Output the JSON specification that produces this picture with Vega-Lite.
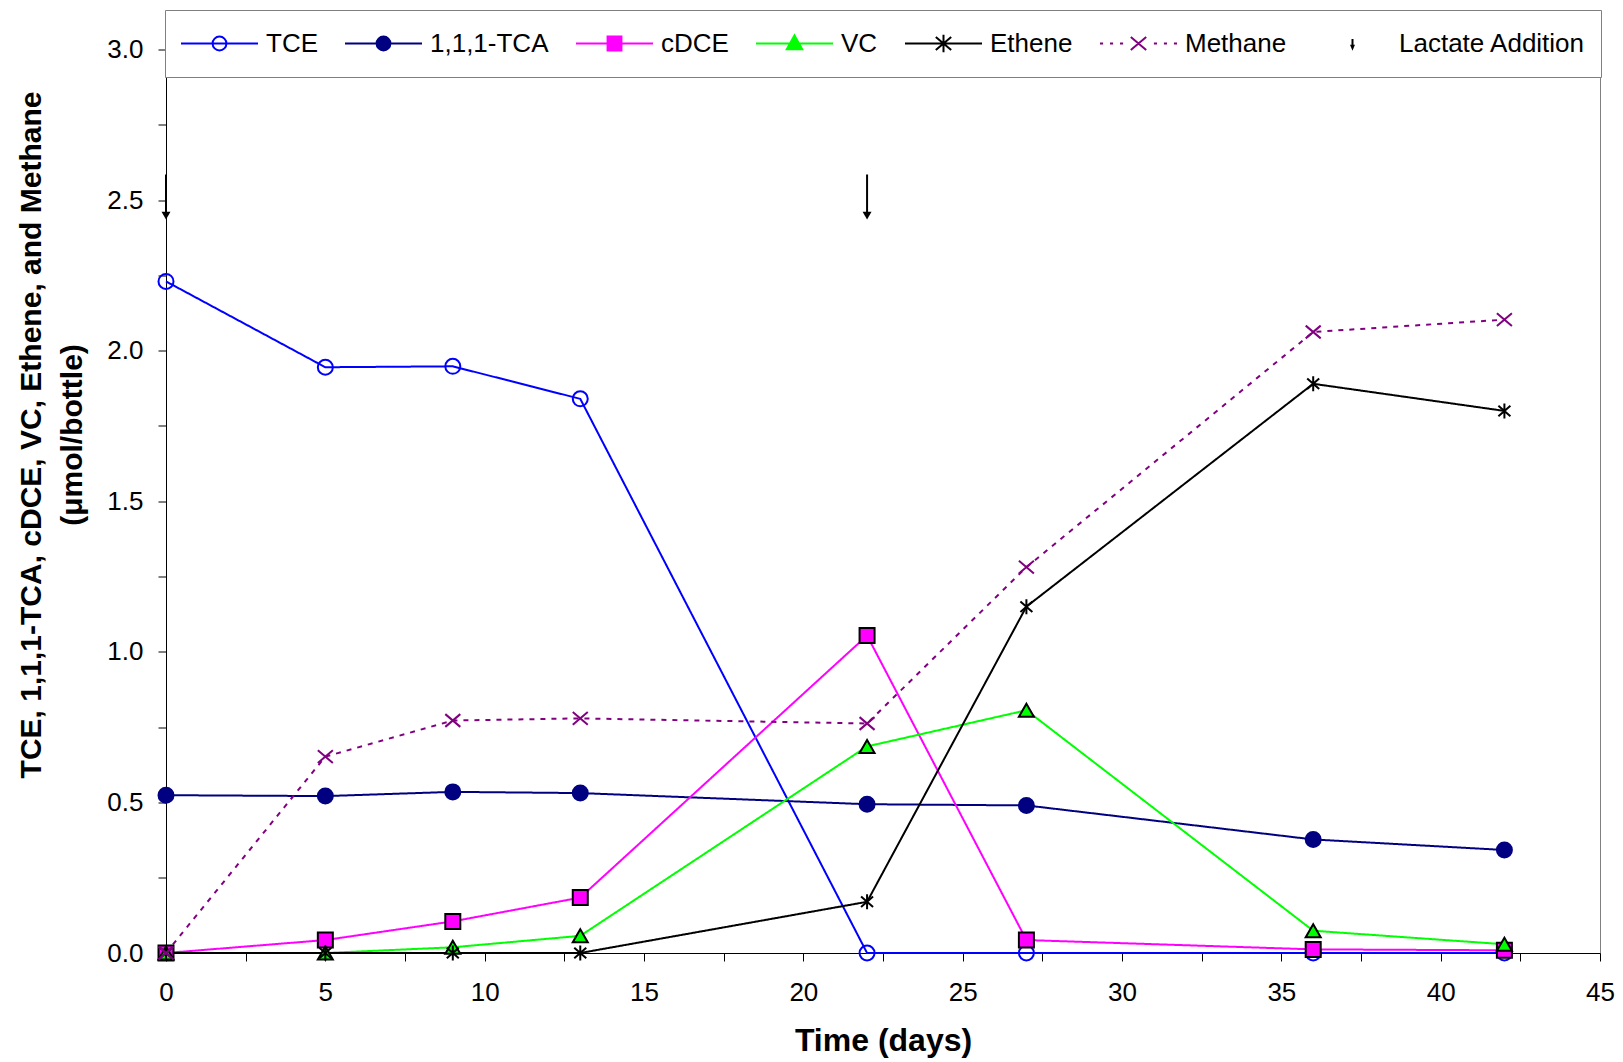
{
  "$schema": "https://vega.github.io/schema/vega-lite/v6.json",
  "width": 1434,
  "height": 903.5,
  "autosize": {"type": "none"},
  "padding": {"left": 166, "top": 49.5, "right": 23, "bottom": 109},
  "background": "white",
  "config": {
    "font": "Liberation Sans",
    "view": {"stroke": "#808080", "strokeWidth": 1},
    "axis": {
      "domainColor": "black", "tickColor": "black", "labelColor": "black", "titleColor": "black",
      "labelFont": "Liberation Sans", "titleFont": "Liberation Sans",
      "labelFontSize": 26, "titleFontSize": 30, "titleFontWeight": "bold",
      "tickSize": 8, "grid": false, "domainWidth": 1, "tickWidth": 1,
      "labelOverlap": false, "labelFlush": false
    }
  },
  "datasets": {
    "conc": [
      {"series": "TCE", "day": 0, "value": 2.23},
      {"series": "TCE", "day": 5, "value": 1.945},
      {"series": "TCE", "day": 9, "value": 1.948},
      {"series": "TCE", "day": 13, "value": 1.84},
      {"series": "TCE", "day": 22, "value": 0},
      {"series": "TCE", "day": 27, "value": 0},
      {"series": "TCE", "day": 36, "value": 0},
      {"series": "TCE", "day": 42, "value": 0},
      {"series": "1,1,1-TCA", "day": 0, "value": 0.524},
      {"series": "1,1,1-TCA", "day": 5, "value": 0.521},
      {"series": "1,1,1-TCA", "day": 9, "value": 0.535},
      {"series": "1,1,1-TCA", "day": 13, "value": 0.531},
      {"series": "1,1,1-TCA", "day": 22, "value": 0.494},
      {"series": "1,1,1-TCA", "day": 27, "value": 0.49},
      {"series": "1,1,1-TCA", "day": 36, "value": 0.377},
      {"series": "1,1,1-TCA", "day": 42, "value": 0.342},
      {"series": "cDCE", "day": 0, "value": 0},
      {"series": "cDCE", "day": 5, "value": 0.043},
      {"series": "cDCE", "day": 9, "value": 0.105},
      {"series": "cDCE", "day": 13, "value": 0.184},
      {"series": "cDCE", "day": 22, "value": 1.054},
      {"series": "cDCE", "day": 27, "value": 0.043},
      {"series": "cDCE", "day": 36, "value": 0.012},
      {"series": "cDCE", "day": 42, "value": 0.009},
      {"series": "VC", "day": 0, "value": 0},
      {"series": "VC", "day": 5, "value": 0},
      {"series": "VC", "day": 9, "value": 0.019},
      {"series": "VC", "day": 13, "value": 0.057},
      {"series": "VC", "day": 22, "value": 0.686},
      {"series": "VC", "day": 27, "value": 0.806},
      {"series": "VC", "day": 36, "value": 0.074},
      {"series": "VC", "day": 42, "value": 0.029},
      {"series": "Ethene", "day": 0, "value": 0},
      {"series": "Ethene", "day": 5, "value": 0},
      {"series": "Ethene", "day": 9, "value": 0},
      {"series": "Ethene", "day": 13, "value": 0},
      {"series": "Ethene", "day": 22, "value": 0.17},
      {"series": "Ethene", "day": 27, "value": 1.15},
      {"series": "Ethene", "day": 36, "value": 1.89},
      {"series": "Ethene", "day": 42, "value": 1.8},
      {"series": "Methane", "day": 0, "value": 0},
      {"series": "Methane", "day": 5, "value": 0.652},
      {"series": "Methane", "day": 9, "value": 0.772},
      {"series": "Methane", "day": 13, "value": 0.779},
      {"series": "Methane", "day": 22, "value": 0.762},
      {"series": "Methane", "day": 27, "value": 1.281},
      {"series": "Methane", "day": 36, "value": 2.062},
      {"series": "Methane", "day": 42, "value": 2.103}
    ],
    "lactate": [
      {"day": 0, "top": 2.585, "head": 2.448},
      {"day": 22, "top": 2.585, "head": 2.448}
    ]
  },
  "encoding": {
    "x": {
      "field": "day", "type": "quantitative",
      "scale": {"domain": [0, 45], "nice": false},
      "axis": {
        "values": [0, 2.5, 5, 7.5, 10, 12.5, 15, 17.5, 20, 22.5, 25, 27.5, 30, 32.5, 35, 37.5, 40, 42.5, 45],
        "labelExpr": "datum.value % 5 === 0 ? format(datum.value, 'd') : ''",
        "labelPadding": 18,
        "title": "Time (days)",
        "titleFontSize": 32,
        "titlePadding": 20
      }
    }
  },
  "layer": [
    {
      "data": {"name": "conc"},
      "mark": {"type": "line"},
      "encoding": {
        "y": {
          "field": "value", "type": "quantitative",
          "scale": {"domain": [0, 3], "nice": false},
          "axis": {
            "values": [0, 0.25, 0.5, 0.75, 1, 1.25, 1.5, 1.75, 2, 2.25, 2.5, 2.75, 3],
            "labelExpr": "datum.value % 0.5 === 0 ? format(datum.value, '.1f') : ''",
            "labelPadding": 15,
            "title": ["TCE, 1,1,1-TCA, cDCE, VC, Ethene, and Methane", "(μmol/bottle)"],
            "titleLineHeight": 41,
            "titlePadding": 19,
            "titleY": 385
          }
        },
        "stroke": {
          "field": "series", "type": "nominal",
          "scale": {"domain": ["TCE", "1,1,1-TCA", "cDCE", "VC", "Ethene", "Methane"],
                    "range": ["#0000FF", "#000080", "#FF00FF", "#00FF00", "#000000", "#800080"]},
          "legend": null
        },
        "strokeDash": {
          "field": "series", "type": "nominal",
          "scale": {"domain": ["TCE", "1,1,1-TCA", "cDCE", "VC", "Ethene", "Methane"],
                    "range": [[1, 0], [1, 0], [1, 0], [1, 0], [1, 0], [5, 6]]},
          "legend": null
        },
        "strokeWidth": {
          "field": "series", "type": "nominal",
          "scale": {"domain": ["TCE", "1,1,1-TCA", "cDCE", "VC", "Ethene", "Methane"],
                    "range": [2, 2, 2, 2, 2, 2.8]},
          "legend": null
        }
      }
    },
    {
      "data": {"name": "conc"},
      "mark": {"type": "point", "filled": true, "strokeWidth": 2, "opacity": 1},
      "encoding": {
        "y": {"field": "value", "type": "quantitative"},
        "shape": {
          "field": "series", "type": "nominal",
          "scale": {"domain": ["TCE", "1,1,1-TCA", "cDCE", "VC", "Ethene", "Methane"],
                    "range": ["circle", "circle", "square", "triangle-up",
                              "M0,-1V1M-0.8,-0.7L0.8,0.7M-0.8,0.7L0.8,-0.7",
                              "M-1,-0.85L1,0.85M-1,0.85L1,-0.85"]},
          "legend": null
        },
        "fill": {
          "field": "series", "type": "nominal",
          "scale": {"domain": ["TCE", "1,1,1-TCA", "cDCE", "VC", "Ethene", "Methane"],
                    "range": ["transparent", "#000080", "#FF00FF", "#00FF00", "transparent", "transparent"]},
          "legend": null
        },
        "stroke": {
          "field": "series", "type": "nominal",
          "scale": {"domain": ["TCE", "1,1,1-TCA", "cDCE", "VC", "Ethene", "Methane"],
                    "range": ["#0000FF", "#000080", "#000000", "#000000", "#000000", "#800080"]},
          "legend": null
        },
        "size": {
          "field": "series", "type": "nominal",
          "scale": {"domain": ["TCE", "1,1,1-TCA", "cDCE", "VC", "Ethene", "Methane"],
                    "range": [225, 225, 196, 256, 400, 400]},
          "legend": null
        }
      }
    },
    {
      "data": {"name": "lactate"},
      "mark": {"type": "rule", "color": "black", "strokeWidth": 2},
      "encoding": {
        "y": {"field": "top", "type": "quantitative"},
        "y2": {"field": "head"}
      }
    },
    {
      "data": {"name": "lactate"},
      "mark": {"type": "point", "shape": "triangle-down", "filled": true, "color": "black", "size": 80, "opacity": 1},
      "encoding": {
        "y": {"field": "head", "type": "quantitative"}
      }
    },
    {
      "data": {"name": "conc"},
      "mark": {"type": "point", "filled": true, "opacity": 0, "size": 10},
      "encoding": {
        "y": {"field": "value", "type": "quantitative"},
        "shape": {
          "field": "series", "type": "nominal",
          "scale": {"domain": ["TCE", "1,1,1-TCA", "cDCE", "VC", "Ethene", "Methane", "Lactate Addition"],
                    "range": [
                      "M-1,0H1M0.18,0A0.18,0.18,0,1,1,-0.18,0A0.18,0.18,0,1,1,0.18,0Z",
                      "M-1,0H1M0.18,0A0.18,0.18,0,1,1,-0.18,0A0.18,0.18,0,1,1,0.18,0Z",
                      "M-1,0H1M-0.18,-0.18H0.18V0.18H-0.18Z",
                      "M-1,0H1M0,-0.21L0.2,0.15L-0.2,0.15Z",
                      "M-1,0H1M0,-0.23V0.23M-0.2,-0.17L0.2,0.17M-0.2,0.17L0.2,-0.17",
                      "M-1,0H-0.92M-0.74,0H-0.66M-0.48,0H-0.4M-0.2,-0.17L0.2,0.17M-0.2,0.17L0.2,-0.17M0.4,0H0.48M0.66,0H0.74M0.92,0H1",
                      "M0,-0.12V0.08M-0.025,0.06L0,0.12L0.025,0.06Z"
                    ]},
          "legend": {"title": null, "orient": "none", "legendX": -1, "legendY": -39.5, "direction": "horizontal", "columns": 7, "columnPadding": 26, "padding": 15, "clipHeight": 37, "symbolSize": 5929, "symbolStrokeWidth": 2, "symbolOpacity": 1, "labelFontSize": 26, "labelFont": "Liberation Sans", "labelColor": "black", "labelOffset": 7, "labelLimit": 400, "strokeColor": "#808080", "fillColor": "white"}
        },
        "fill": {
          "field": "series", "type": "nominal",
          "scale": {"domain": ["TCE", "1,1,1-TCA", "cDCE", "VC", "Ethene", "Methane", "Lactate Addition"],
                    "range": ["transparent", "#000080", "#FF00FF", "#00FF00", "transparent", "transparent", "#000000"]},
          "legend": {"title": null, "orient": "none", "legendX": -1, "legendY": -39.5, "direction": "horizontal", "columns": 7, "columnPadding": 26, "padding": 15, "clipHeight": 37, "symbolSize": 5929, "symbolStrokeWidth": 2, "symbolOpacity": 1, "labelFontSize": 26, "labelFont": "Liberation Sans", "labelColor": "black", "labelOffset": 7, "labelLimit": 400, "strokeColor": "#808080", "fillColor": "white"}
        },
        "stroke": {
          "field": "series", "type": "nominal",
          "scale": {"domain": ["TCE", "1,1,1-TCA", "cDCE", "VC", "Ethene", "Methane", "Lactate Addition"],
                    "range": ["#0000FF", "#000080", "#FF00FF", "#00FF00", "#000000", "#800080", "#000000"]},
          "legend": {"title": null, "orient": "none", "legendX": -1, "legendY": -39.5, "direction": "horizontal", "columns": 7, "columnPadding": 26, "padding": 15, "clipHeight": 37, "symbolSize": 5929, "symbolStrokeWidth": 2, "symbolOpacity": 1, "labelFontSize": 26, "labelFont": "Liberation Sans", "labelColor": "black", "labelOffset": 7, "labelLimit": 400, "strokeColor": "#808080", "fillColor": "white"}
        }
      }
    }
  ],
  "resolve": {
    "scale": {"stroke": "independent", "fill": "independent", "shape": "independent", "strokeDash": "independent", "size": "independent", "strokeWidth": "independent"},
    "legend": {"stroke": "independent", "fill": "independent", "shape": "independent"}
  }
}
